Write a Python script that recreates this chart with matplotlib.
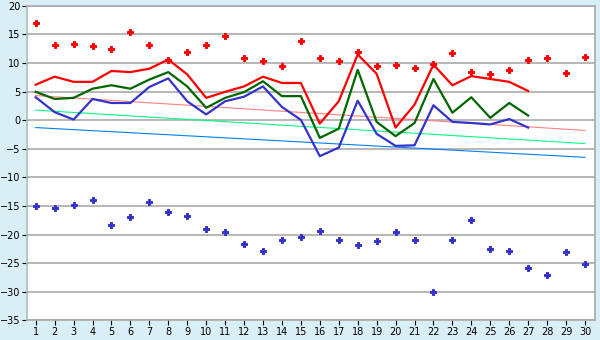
import numpy as np
import matplotlib
matplotlib.use('Agg')
import matplotlib.pyplot as plt

# x positions 1..30
days = list(range(1, 31))
line_days = list(range(1, 28))

# scatter points
red_points = [17.0, 13.2, 13.4, 12.9, 12.5, 15.5, 13.2, 10.6, 12.0, 13.2,
              14.8, 10.8, 10.4, 9.4, 13.9, 10.8, 10.3, 11.9, 9.4, 9.6,
              9.2, 9.8, 11.7, 8.5, 8.0, 8.7, 10.6, 10.8, 8.2, 11.0]
blue_points = [-15.0, -15.3, -14.9, -13.9, -18.4, -17.0, -14.4, -16.1, -16.8, -19.1,
               -19.6, -21.7, -22.8, -21.0, -20.5, -19.3, -21.0, -21.9, -21.2, -19.6,
               -21.0, -30.1, -21.0, -17.5, -22.6, -22.8, -25.8, -27.0, -23.0, -25.2]

# main lines
red_line = [6.2, 7.6, 6.7, 6.7, 8.6, 8.4, 9.0, 10.6, 8.0, 3.9,
            4.95, 5.9, 7.6, 6.5, 6.5, -0.6, 3.3, 11.5, 8.1, -1.3,
            2.7, 9.7, 6.1, 7.7, 7.2, 6.7, 5.1]
green_line = [4.95, 3.7, 3.9, 5.5, 6.1, 5.5, 7.1, 8.4, 5.9, 2.15,
              3.9, 4.9, 6.8, 4.2, 4.2, -3.1, -1.5, 8.8, -0.3, -2.8,
              -0.5, 7.2, 1.3, 4.0, 0.4, 3.0, 0.8]
blue_line = [4.0, 1.4, 0.1, 3.7, 3.0, 3.0, 5.8, 7.3, 3.3, 1.0,
             3.3, 4.1, 5.9, 2.3, 0.05, -6.3, -4.8, 3.4, -2.4, -4.5,
             -4.4, 2.6, -0.3, -0.5, -0.75, 0.2, -1.3]

# trend lines (start, end)
trend_x = [1, 30]
pink_trend = [4.3, -1.8]
mint_trend = [1.75, -4.1]
sky_trend = [-1.3, -6.5]

fig = plt.figure(figsize=(6, 3.4), dpi=100)
fig.patch.set_facecolor('#d9eef5')
ax = fig.add_axes([0.0445, 0.058, 0.9472, 0.925])
ax.set_facecolor('white')

ax.set_xlim(0.525, 30.53)
ax.set_ylim(-35, 20)
ax.set_yticks(range(-35, 21, 5))
ax.set_xticks(days)
ax.grid(axis='y', color='#aaaaaa', linewidth=1.2)
ax.set_axisbelow(True)

for s in ax.spines.values():
    s.set_color('#aaaaaa')
    s.set_linewidth(1.2)
ax.spines['left'].set_color('#a9bcc8')

ax.tick_params(axis='both', labelsize=7, length=3.5, width=0.8, color='black', pad=1.5)
ax.tick_params(axis='y', pad=1)

ax.plot(trend_x, pink_trend, color='#ff8080', linewidth=0.8)
ax.plot(trend_x, mint_trend, color='#00ff80', linewidth=0.8)
ax.plot(trend_x, sky_trend, color='#0080ff', linewidth=0.8)

ax.plot(line_days, red_line, color='#ff0000', linewidth=1.6)
ax.plot(line_days, green_line, color='#006600', linewidth=1.6)
ax.plot(line_days, blue_line, color='#3333cc', linewidth=1.6)

ax.plot(days, red_points, linestyle='none', marker='P', markersize=4.0,
        color='#ff0000', markeredgewidth=0.7)
ax.plot(days, blue_points, linestyle='none', marker='P', markersize=4.0,
        color='#3333cc', markeredgewidth=0.7)

plt.savefig('out.png', dpi=100)
